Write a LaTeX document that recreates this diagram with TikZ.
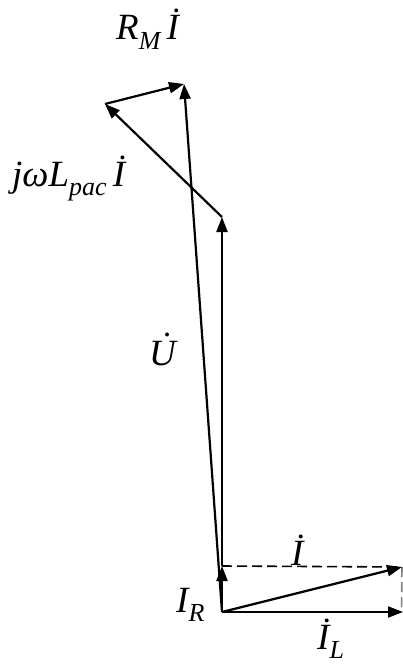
\documentclass[tikz,border=0pt]{standalone}
\usepackage{fontspec}
\setmainfont{Liberation Serif}
\usetikzlibrary{arrows.meta}
\newcommand{\lowsub}[1]{\raisebox{-0.27em}{\fontsize{26}{26}\selectfont\itshape #1}}
\newcommand{\dotU}{\accent"02D9 U}
\tikzset{
  vec/.style={line width=2.2pt,-{Triangle[length=15pt,width=11pt]}},
  aux/.style={line width=1.6pt,dash pattern=on 10pt off 5pt},
  lbl/.style={font=\fontsize{37}{37}\selectfont\itshape,inner sep=0pt,anchor=base west}
}
\begin{document}
\begin{tikzpicture}[x=1pt,y=-1pt]
\useasboundingbox (0,0) rectangle (403,666);
\coordinate (O) at (222,612);
\coordinate (IL) at (403,612);
\coordinate (IR) at (222,566);
\coordinate (I) at (402,567);
\coordinate (A) at (222,217);
\coordinate (B) at (105,104);
\coordinate (C) at (184,84);
\coordinate (D) at (401.5,612);
% dashed construction lines
\draw[aux] (IR) -- (I);
\draw[aux,gray] (I) -- (D);
% current vectors
\draw[vec] (O) -- (IL);
\draw[vec] (O) -- (IR);
\draw[vec] (O) -- (I);
% voltage vectors
\draw[vec] (IR) -- (A);
\draw[vec] (A) -- (B);
\draw[vec] (B) -- (C);
\draw[vec] (O) -- (C);
% labels
\node[lbl] (lRM) at (116,40) {R\lowsub{M}\,İ};
\node[lbl] (lJW) at (12,186) {jωL\lowsub{pac}\,İ};
\node[lbl] (lU) at (149,365) {\dotU};
\node[lbl] (lI) at (291,565) {İ};
\node[lbl] (lIR) at (176,612) {I\lowsub{R}};
\node[lbl] (lIL) at (317,649) {İ\lowsub{L}};
\end{tikzpicture}
\end{document}
